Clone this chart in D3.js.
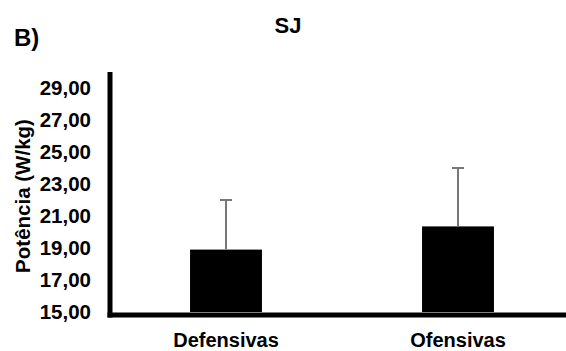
<!DOCTYPE html>
<html>
<head>
<meta charset="utf-8">
<script src="https://cdn.jsdelivr.net/npm/d3@7"></script>
<style>
  html, body { margin: 0; padding: 0; background: #fff; }
  svg { display: block; font-family: "Liberation Sans", Arial, sans-serif; font-weight: bold; }
</style>
</head>
<body>
<svg id="chart" width="566" height="351"></svg>
<script>
const categories = ["Defensivas", "Ofensivas"];
const means = [18.9, 20.35];
const sds = [3.1, 3.65];
const yTicks = [15, 17, 19, 21, 23, 25, 27, 29];
const title = "SJ";
const panelLabel = "B)";
const yLabel = "Potência (W/kg)";

const svg = d3.select("#chart");
const W = 566, H = 351;
const x0 = 110, yTop = 72, yBottom = 312;

const y = d3.scaleLinear().domain([15, 30]).range([yBottom, yTop]);
const x = d3.scaleBand().domain(categories).range([x0, 574]).paddingInner(0.69).paddingOuter(0.345);

// bars
svg.selectAll("rect.bar").data(categories).enter().append("rect")
  .attr("class", "bar")
  .attr("x", d => x(d))
  .attr("width", x.bandwidth())
  .attr("y", (d, i) => y(means[i]))
  .attr("height", (d, i) => y(15) - y(means[i]))
  .attr("fill", "#000");

// error bars (upper only)
const eb = svg.selectAll("g.err").data(categories).enter().append("g").attr("class", "err");
eb.append("line")
  .attr("x1", d => x(d) + x.bandwidth() / 2)
  .attr("x2", d => x(d) + x.bandwidth() / 2)
  .attr("y1", (d, i) => y(means[i]))
  .attr("y2", (d, i) => y(means[i] + sds[i]))
  .attr("stroke", "#777").attr("stroke-width", 2);
eb.append("line")
  .attr("x1", d => x(d) + x.bandwidth() / 2 - 6)
  .attr("x2", d => x(d) + x.bandwidth() / 2 + 6)
  .attr("y1", (d, i) => y(means[i] + sds[i]))
  .attr("y2", (d, i) => y(means[i] + sds[i]))
  .attr("stroke", "#777").attr("stroke-width", 2);

// y axis
const yAxis = d3.axisLeft(y).tickValues(yTicks).tickSize(0).tickPadding(0)
  .tickFormat(d => d3.format(".2f")(d).replace(".", ","));
const gy = svg.append("g").attr("transform", `translate(91,0)`).call(yAxis);
gy.select(".domain").remove();
gy.selectAll("text").attr("font-size", 20.5).attr("font-weight", "bold")
  .attr("font-family", "Liberation Sans, Arial, sans-serif").attr("fill", "#000");

svg.append("line").attr("x1", x0).attr("x2", x0).attr("y1", yTop).attr("y2", yBottom + 5.5)
  .attr("stroke", "#000").attr("stroke-width", 5);

// x axis
const xAxis = d3.axisBottom(x).tickSize(0).tickPadding(0);
const gx = svg.append("g").attr("transform", `translate(0,${yBottom + 21})`).call(xAxis);
gx.select(".domain").remove();
gx.selectAll("text").attr("font-size", 20).attr("font-weight", "bold")
  .attr("font-family", "Liberation Sans, Arial, sans-serif").attr("fill", "#000")
  .attr("dy", "0.71em");

svg.append("line").attr("x1", x0 - 2.5).attr("x2", W).attr("y1", yBottom + 3).attr("y2", yBottom + 3)
  .attr("stroke", "#000").attr("stroke-width", 5);

// titles
svg.append("text").attr("x", 288).attr("y", 33).attr("text-anchor", "middle")
  .attr("font-size", 22).text(title);
svg.append("text").attr("x", 14).attr("y", 46)
  .attr("font-size", 24).text(panelLabel);
svg.append("text").attr("transform", "translate(30,196) rotate(-90)").attr("text-anchor", "middle")
  .attr("font-size", 20.5).text(yLabel);
</script>
</body>
</html>
